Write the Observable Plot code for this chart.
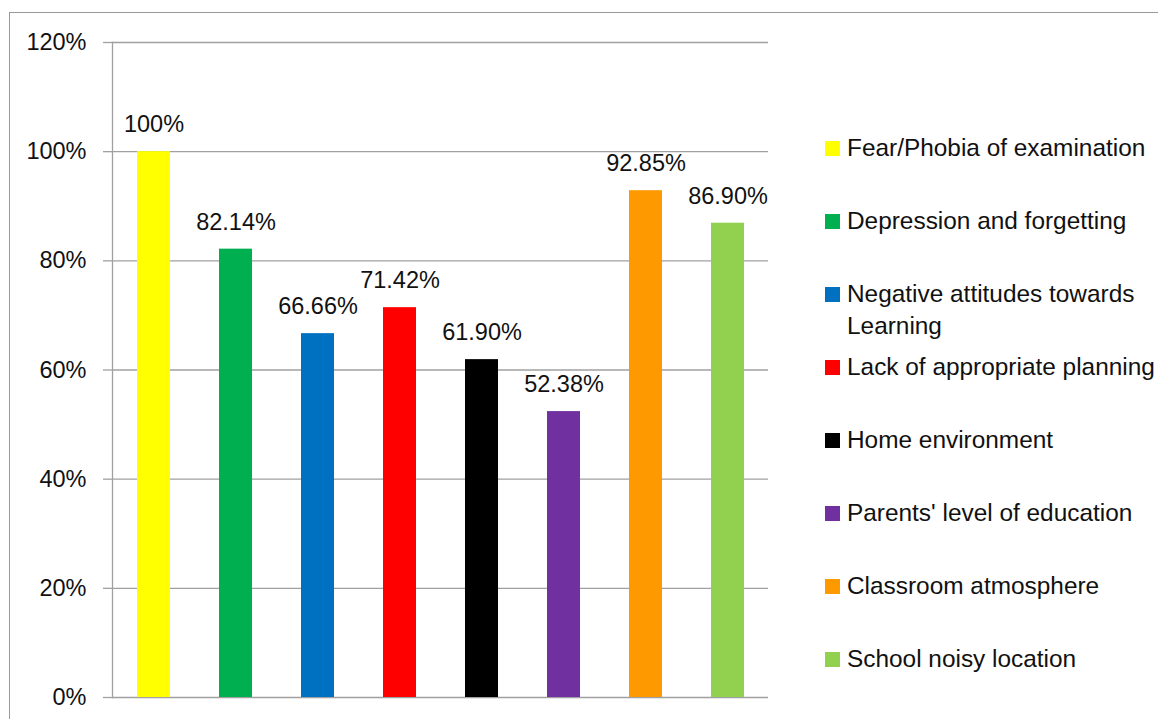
<!DOCTYPE html>
<html>
<head>
<meta charset="utf-8">
<script src="https://cdn.jsdelivr.net/npm/d3@7"></script>
<script src="https://cdn.jsdelivr.net/npm/@observablehq/plot@0.6"></script>
<style>
  html, body { margin: 0; padding: 0; background: #fff; overflow: hidden; }
  #wrap { position: relative; width: 1158px; height: 719px; overflow: hidden; font-family: "Liberation Sans", Arial, sans-serif; }
  #border { position: absolute; left: 9px; top: 12px; width: 1300px; height: 900px; border: 1px solid #999; box-sizing: border-box; }
  #chart { position: absolute; left: 0; top: 0; }
  .leg { position: absolute; left: 825px; display: flex; align-items: flex-start; font-size: 24.4px; line-height: 32px; color: #111; white-space: pre; }
  .leg .sw { width: 15px; height: 15px; margin-top: 9px; margin-right: 7px; flex: none; }
</style>
</head>
<body>
<div id="wrap"><div id="border"></div><div id="chart"></div><div id="legend"></div></div>
<script>
const categories = [
  "Fear/Phobia of examination",
  "Depression and forgetting",
  "Negative attitudes towards Learning",
  "Lack of appropriate planning",
  "Home environment",
  "Parents' level of education",
  "Classroom atmosphere",
  "School noisy location"
];
const legendLabels = [
  "Fear/Phobia of examination",
  "Depression and forgetting",
  "Negative attitudes towards\nLearning",
  "Lack of appropriate planning",
  "Home environment",
  "Parents' level of education",
  "Classroom atmosphere",
  "School noisy location"
];
const values = [1.00, 0.8214, 0.6666, 0.7142, 0.6190, 0.5238, 0.9285, 0.8690];
const valueLabels = ["100%", "82.14%", "66.66%", "71.42%", "61.90%", "52.38%", "92.85%", "86.90%"];
const colors = ["#FFFF00", "#00B050", "#0070C0", "#FF0000", "#000000", "#7030A0", "#FF9900", "#92D050"];
const yTicks = [0, 0.2, 0.4, 0.6, 0.8, 1.0, 1.2];
const yTickLabels = ["0%", "20%", "40%", "60%", "80%", "100%", "120%"];

const data = categories.map((c, i) => ({cat: c, value: values[i], label: valueLabels[i], color: colors[i]}));

const plot = Plot.plot({
  width: 1158,
  height: 719,
  marginLeft: 112,
  marginRight: 390,
  marginTop: 42,
  marginBottom: 22,
  style: {fontFamily: "'Liberation Sans', Arial, sans-serif", fontSize: "23.5px", color: "#111", background: "transparent"},
  x: {domain: categories, paddingInner: 0.6, paddingOuter: 0.3, axis: null},
  y: {domain: [0, 1.2]},
  marks: [
    Plot.ruleY(yTicks, {stroke: "#a0a0a0", strokeWidth: 1.3}),
    Plot.axisY({ticks: yTicks, tickSize: 9, tickPadding: 17, stroke: "#a0a0a0", strokeWidth: 1.3, strokeOpacity: 1,
      tickFormat: (d) => yTickLabels[yTicks.indexOf(d)], label: null, fontSize: 23.5, fill: "#111"}),
    Plot.frame({anchor: "left", stroke: "#a0a0a0", strokeWidth: 1.3}),
    Plot.barY(data, {x: "cat", y: "value", fill: "color"}),
    Plot.text(data, {x: "cat", y: "value", text: "label", dy: -27, fontSize: 23.5, fill: "#111", lineAnchor: "middle"})
  ]
});
document.getElementById("chart").appendChild(plot);

const legend = document.getElementById("legend");
legendLabels.forEach((lab, i) => {
  const item = document.createElement("div");
  item.className = "leg";
  item.style.top = (148 + i * 73 - 16) + "px";
  const sw = document.createElement("div");
  sw.className = "sw";
  sw.style.background = colors[i];
  const tx = document.createElement("div");
  tx.textContent = lab;
  item.appendChild(sw);
  item.appendChild(tx);
  legend.appendChild(item);
});
</script>
</body>
</html>
